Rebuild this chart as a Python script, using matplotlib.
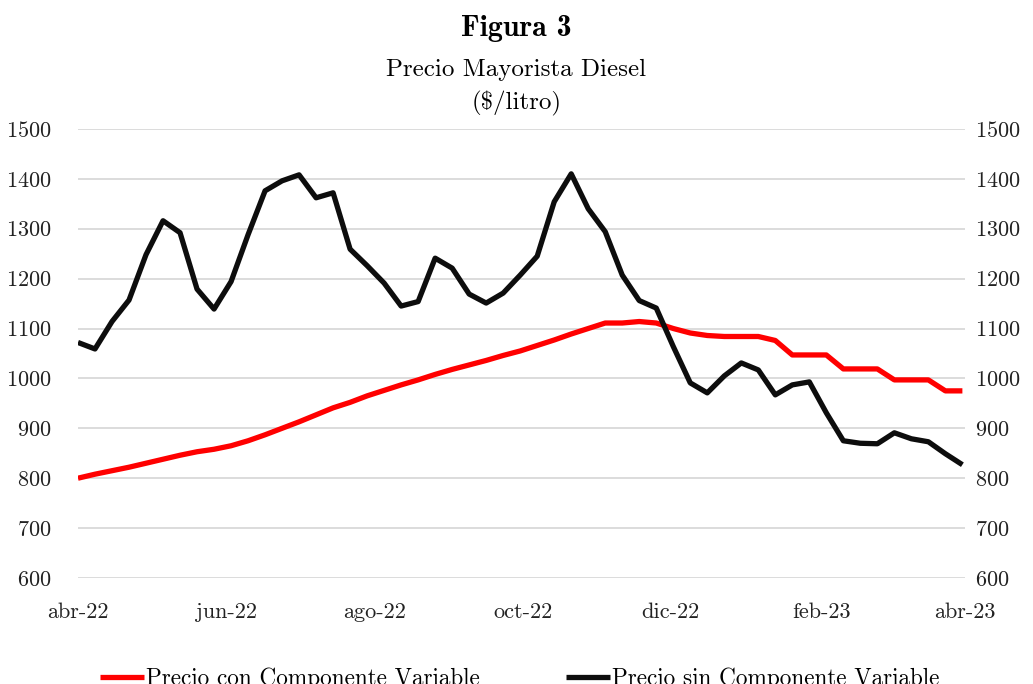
import numpy as np
import pandas as pd
import matplotlib
matplotlib.use('Agg')
import matplotlib.pyplot as plt

plt.rcParams['font.family'] = 'cmr10'
plt.rcParams['axes.formatter.use_mathtext'] = True

# weekly wholesale diesel prices ($/litro)
fechas = pd.date_range('2022-04-01', periods=53, freq='7D')

con_componente = [800, 808, 815, 822, 830, 838, 846, 853, 858, 865, 875, 887, 900, 913,
                  927, 941, 952, 965, 976, 987, 997, 1008, 1018, 1027, 1036, 1046, 1055,
                  1066, 1077, 1089, 1100, 1111, 1111, 1114, 1111, 1100, 1091, 1086, 1084,
                  1084, 1084, 1076, 1047, 1047, 1047, 1019, 1019, 1019, 997, 997, 997,
                  975, 975]

sin_componente = [1072, 1059, 1114, 1157, 1248, 1316, 1292, 1179, 1139, 1194, 1288, 1376,
                  1396, 1408, 1362, 1372, 1259, 1226, 1191, 1145, 1154, 1241, 1221, 1169,
                  1151, 1171, 1207, 1245, 1354, 1410, 1340, 1294, 1207, 1156, 1141, 1064,
                  991, 971, 1005, 1031, 1017, 967, 987, 993, 931, 875, 870, 869, 891, 879,
                  873, 849, 827]

meses = ['abr-22', 'jun-22', 'ago-22', 'oct-22', 'dic-22', 'feb-23', 'abr-23']
meses_fechas = pd.to_datetime(['2022-04-01', '2022-06-01', '2022-08-01', '2022-10-01',
                               '2022-12-01', '2023-02-01', '2023-04-01'])

fig = plt.figure(figsize=(10.33, 6.84), dpi=100)
ax = fig.add_axes([0.0755, 0.155, 0.8585, 0.6565])

ax.plot(fechas, con_componente, color='#ff0000', lw=3.8, label='Precio con Componente Variable',
        solid_capstyle='butt', zorder=3)
ax.plot(fechas, sin_componente, color='#0d0d0d', lw=3.8, label='Precio sin Componente Variable',
        solid_capstyle='butt', zorder=4)

ax.set_xlim(pd.Timestamp('2022-04-01'), pd.Timestamp('2023-04-01'))
ax.set_ylim(600, 1500)
ax.set_yticks(np.arange(600, 1501, 100))
ax.set_xticks(meses_fechas)
ax.set_xticklabels(meses)
ax.grid(axis='y', color='#d9d9d9', lw=1.3)
ax.set_axisbelow(True)
for s in ax.spines.values():
    s.set_visible(False)
ax.tick_params(length=0, labelsize=16, colors='#222222')
ax.tick_params(axis='x', pad=18)
ax.tick_params(axis='y', pad=19)

ax2 = ax.twinx()
ax2.set_ylim(600, 1500)
ax2.set_yticks(np.arange(600, 1501, 100))
for s in ax2.spines.values():
    s.set_visible(False)
ax2.tick_params(length=0, labelsize=16, colors='#222222', pad=7)

fig.text(0.5, 1 - 28 / 684, 'Figura 3', ha='center', va='center', fontsize=21.5,
         family='cmb10')
fig.text(0.5, 1 - 70 / 684, 'Precio Mayorista Diesel', ha='center', va='center', fontsize=18)
fig.text(0.5, 1 - 103 / 684, r'(\$/litro)', ha='center', va='center', fontsize=18)

fig.legend(loc='center', bbox_to_anchor=(0.503, 1 - 679 / 684), ncol=2, frameon=False,
           fontsize=16.7, handlelength=1.9, handletextpad=0.1, columnspacing=3.7)

fig.savefig('out.png', dpi=100)
